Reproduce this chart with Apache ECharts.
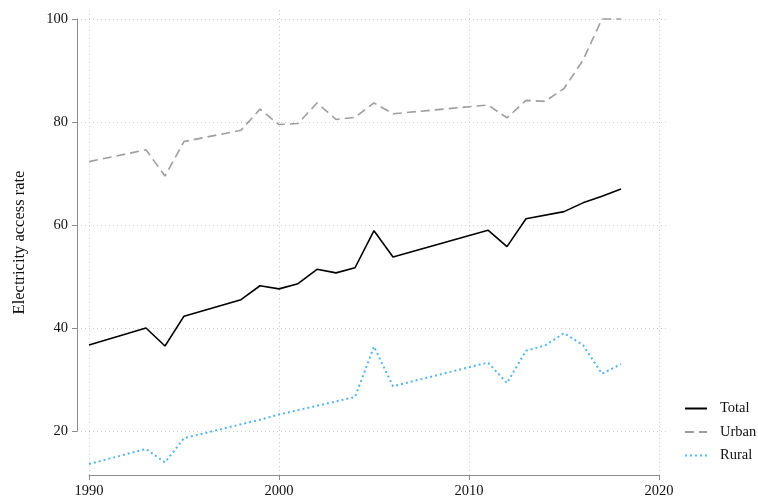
<!DOCTYPE html>
<html>
<head>
<meta charset="utf-8">
<script src="https://cdn.jsdelivr.net/npm/echarts@6/dist/echarts.min.js"></script>
<style>html,body{margin:0;padding:0;background:#fff;}#c{width:758px;height:504px;}</style>
</head>
<body>
<div id="c"></div>
<script>
// ---- data ----
const xTicks = [1990, 2000, 2010, 2020];
const yTicks = [20, 40, 60, 80, 100];
const yTitle = 'Electricity access rate';

const totalYears  = [1990,1993,1994,1995,1998,1999,2000,2001,2002,2003,2004,2005,2006,2011,2012,2013,2015,2016,2017,2018];
const totalValues = [36.7,40.0,36.5,42.3,45.5,48.2,47.6,48.6,51.4,50.7,51.7,58.9,53.8,59.0,55.8,61.2,62.6,64.3,65.6,67.0];

const urbanYears  = [1990,1993,1994,1995,1998,1999,2000,2001,2002,2003,2004,2005,2006,2011,2012,2013,2014,2015,2016,2017,2018];
const urbanValues = [72.3,74.6,69.5,76.2,78.4,82.5,79.5,79.7,83.7,80.5,80.9,83.7,81.6,83.3,80.8,84.2,84.0,86.5,92.0,100,100];

const ruralYears  = [1990,1993,1994,1995,1998,1999,2000,2004,2005,2006,2011,2012,2013,2014,2015,2016,2017,2018];
const ruralValues = [13.6,16.5,13.9,18.6,21.3,22.2,23.2,26.6,36.4,28.7,33.3,29.3,35.6,36.6,39.0,36.7,31.1,33.0];

// ---- layout (pixels) ----
const W = 758, H = 504;
const PL = 77, PR = 669, PT = 10, PB = 475;   // plot region (gridlines extent)
const DL = 89, DR = 659, DT = 19, DB = 431;   // tick range region
const xLo = xTicks[0], xHi = xTicks[xTicks.length-1];
const yLo = yTicks[0], yHi = yTicks[yTicks.length-1];
const pxX = (DR - DL) / (xHi - xLo);
const pxY = (DB - DT) / (yHi - yLo);
const bxMin = xLo - (DL - PL) / pxX, bxMax = xHi + (PR - DR) / pxX;
const byMin = yLo - (PB - DB) / pxY, byMax = yHi + (DT - PT) / pxY;

const FONT = '"Liberation Serif", "Times New Roman", serif';
const axisGray = '#8c8c8c';
const gridStyle = {color: '#cfcfcf', width: 1, type: [1, 3]};

const zip = (xs, ys) => xs.map((x, i) => [x, ys[i]]);

const gridMarks = xTicks.map(v => ({xAxis: v})).concat(yTicks.map(v => ({yAxis: v})));

const chart = echarts.init(document.getElementById('c'), null, {renderer: 'canvas'});
chart.setOption({
  animation: false,
  backgroundColor: '#fff',
  grid: [
    {left: DL, right: W - DR, top: DT, bottom: H - DB, containLabel: false},
    {left: PL, right: W - PR, top: PT, bottom: H - PB, containLabel: false}
  ],
  xAxis: [
    {gridIndex: 0, type: 'value', min: xLo, max: xHi, interval: 10, offset: PB - DB,
     axisLine: {show: true, lineStyle: {color: axisGray, width: 1}},
     axisTick: {show: true, length: 5, lineStyle: {color: axisGray}},
     axisLabel: {color: '#111', fontFamily: FONT, fontSize: 14.5, margin: 9, formatter: v => String(v)},
     splitLine: {show: false}},
    {gridIndex: 1, type: 'value', min: bxMin, max: bxMax, show: false, splitLine: {show: false}}
  ],
  yAxis: [
    {gridIndex: 0, type: 'value', min: yLo, max: yHi, interval: 20, offset: DL - PL,
     axisLine: {show: true, lineStyle: {color: axisGray, width: 1}},
     axisTick: {show: true, length: 5, lineStyle: {color: axisGray}},
     axisLabel: {color: '#111', fontFamily: FONT, fontSize: 14.5, margin: 9, formatter: v => String(v)},
     splitLine: {show: false}},
    {gridIndex: 1, type: 'value', min: byMin, max: byMax, show: true,
     axisLine: {show: false}, axisTick: {show: false}, axisLabel: {show: false},
     splitLine: {show: false},
     name: yTitle, nameLocation: 'middle', nameGap: 49, nameRotate: 90,
     nameTextStyle: {color: '#111', fontFamily: FONT, fontSize: 16.5}}
  ],
  legend: {
    orient: 'vertical', left: 684, top: 401, padding: 0,
    itemWidth: 22, itemHeight: 14, itemGap: 8.5,
    itemStyle: {opacity: 0},
    textStyle: {color: '#111', fontFamily: FONT, fontSize: 14.5, padding: [0, 0, 0, 8]},
    data: ['Total', 'Urban', 'Rural']
  },
  series: [
    {name: 'Total', type: 'line', xAxisIndex: 1, yAxisIndex: 1, data: zip(totalYears, totalValues),
     showSymbol: false, symbol: 'none', color: '#000',
     lineStyle: {color: '#000', width: 1.6, type: 'solid'},
     markLine: {silent: true, symbol: 'none', label: {show: false}, lineStyle: gridStyle, data: gridMarks, z: 0}},
    {name: 'Urban', type: 'line', xAxisIndex: 1, yAxisIndex: 1, data: zip(urbanYears, urbanValues),
     showSymbol: false, symbol: 'none', color: '#9e9e9e',
     lineStyle: {color: '#9e9e9e', width: 1.6, type: [9, 5]}},
    {name: 'Rural', type: 'line', xAxisIndex: 1, yAxisIndex: 1, data: zip(ruralYears, ruralValues),
     showSymbol: false, symbol: 'none', color: '#56b4e9',
     lineStyle: {color: '#56b4e9', width: 2, type: [2, 3]}}
  ]
});
</script>
</body>
</html>
